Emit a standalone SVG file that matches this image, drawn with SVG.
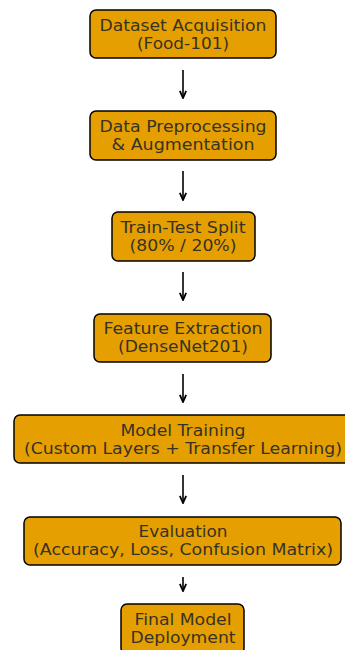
<svg xmlns="http://www.w3.org/2000/svg" width="345" height="650" viewBox="0 0 345 650">
<defs>
<marker id="ah" viewBox="0 0 10 10" refX="9" refY="5" markerWidth="9" markerHeight="9" markerUnits="userSpaceOnUse" orient="auto">
<path d="M1,1.5 L9,5 L1,8.5" fill="none" stroke="#000" stroke-width="2"/>
</marker>
<style>
.box{fill:#E69F00;stroke:#000;stroke-width:1.5}
.t{font-size:16px;fill:#363326;text-anchor:middle}
.c{stroke:#000;stroke-width:1.6;fill:none;marker-end:url(#ah)}
</style>
</defs>
<rect width="345" height="650" fill="#fff"/>
<g id="connectors">
<line class="c" x1="183" y1="70" x2="183" y2="98"/>
<line class="c" x1="183" y1="171" x2="183" y2="200"/>
<line class="c" x1="183" y1="272" x2="183" y2="300"/>
<line class="c" x1="183" y1="374" x2="183" y2="402"/>
<line class="c" x1="183" y1="475" x2="183" y2="503"/>
<line class="c" x1="183" y1="577" x2="183" y2="591"/>
</g>
<g font-family="'DejaVu Sans', Verdana, 'Open Sans', sans-serif">
<g id="n1"><rect class="box" x="90" y="10" width="186" height="48" rx="6"/>
<text class="t" x="183" y="30.5" textLength="167" lengthAdjust="spacingAndGlyphs">Dataset Acquisition</text><text class="t" x="183" y="48.5" textLength="92" lengthAdjust="spacingAndGlyphs">(Food-101)</text></g>
<g id="n2"><rect class="box" x="90" y="111" width="186" height="49" rx="6"/>
<text class="t" x="183" y="132" textLength="167" lengthAdjust="spacingAndGlyphs">Data Preprocessing</text><text class="t" x="183" y="150" textLength="143" lengthAdjust="spacingAndGlyphs">&amp; Augmentation</text></g>
<g id="n3"><rect class="box" x="112" y="212" width="143" height="49" rx="6"/>
<text class="t" x="183" y="233" textLength="125" lengthAdjust="spacingAndGlyphs">Train-Test Split</text><text class="t" x="183" y="251" textLength="107" lengthAdjust="spacingAndGlyphs">(80% / 20%)</text></g>
<g id="n4"><rect class="box" x="94" y="314" width="177" height="48" rx="6"/>
<text class="t" x="183" y="334" textLength="159" lengthAdjust="spacingAndGlyphs">Feature Extraction</text><text class="t" x="183" y="352" textLength="130" lengthAdjust="spacingAndGlyphs">(DenseNet201)</text></g>
<g id="n5"><rect class="box" x="14" y="415" width="338" height="48" rx="6"/>
<text class="t" x="183" y="435.5" textLength="125" lengthAdjust="spacingAndGlyphs">Model Training</text><text class="t" x="183" y="453.5" textLength="318" lengthAdjust="spacingAndGlyphs">(Custom Layers + Transfer Learning)</text></g>
<g id="n6"><rect class="box" x="24" y="517" width="317" height="48" rx="6"/>
<text class="t" x="183" y="536.5" textLength="89" lengthAdjust="spacingAndGlyphs">Evaluation</text><text class="t" x="183" y="554.5" textLength="300" lengthAdjust="spacingAndGlyphs">(Accuracy, Loss, Confusion Matrix)</text></g>
<g id="n7"><rect class="box" x="121" y="604" width="123" height="50" rx="6"/>
<text class="t" x="183" y="624.5" textLength="97" lengthAdjust="spacingAndGlyphs">Final Model</text><text class="t" x="183" y="642.5" textLength="105" lengthAdjust="spacingAndGlyphs">Deployment</text></g>
</g>
</svg>
